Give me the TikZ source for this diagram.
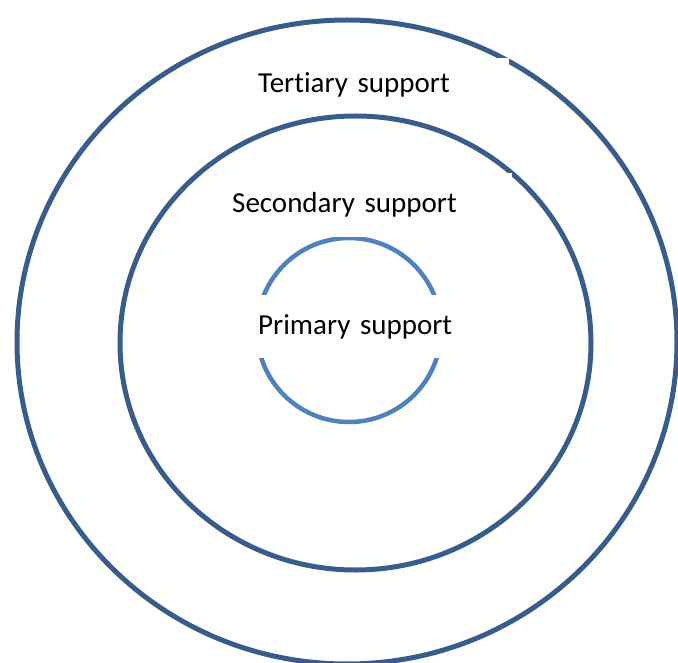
\documentclass[tikz,border=0pt]{standalone}
\usepackage{fontspec}
\setmainfont{Carlito}[Ligatures=NoCommon]
\usetikzlibrary{shapes.geometric}
\definecolor{ringdark}{HTML}{385D8A}
\definecolor{ringlight}{HTML}{4F81BD}
\begin{document}
\begin{tikzpicture}[x=1pt,y=-1pt,
  ring/.style={ellipse, draw=ringdark, line width=5pt, inner sep=0pt},
  labelbox/.style={anchor=north west, fill=white, inner xsep=10pt, inner ysep=0pt,
    align=left, font=\fontsize{29}{32}\selectfont, text=black}]
\useasboundingbox (0,0) rectangle (678,663);
\node[ring, minimum width=660pt, minimum height=644pt] (outer) at (347,342) {};
\node[ring, minimum width=471pt, minimum height=454pt] (middle) at (355.5,343) {};
\node[ring, draw=ringlight, line width=4.5pt, minimum width=184pt, minimum height=184pt] (inner) at (349,330) {};
\node[labelbox, text width=241pt, minimum height=54pt] (tertiary) at (248,58) {Tert\kern0pt iary support};
\node[labelbox, text width=270pt, minimum height=64pt] (secondary) at (222,173) {Secondary support};
\node[labelbox, inner xsep=8pt, text width=204pt, minimum height=63pt] (primary) at (250,295) {Primary support};
\end{tikzpicture}
\end{document}
